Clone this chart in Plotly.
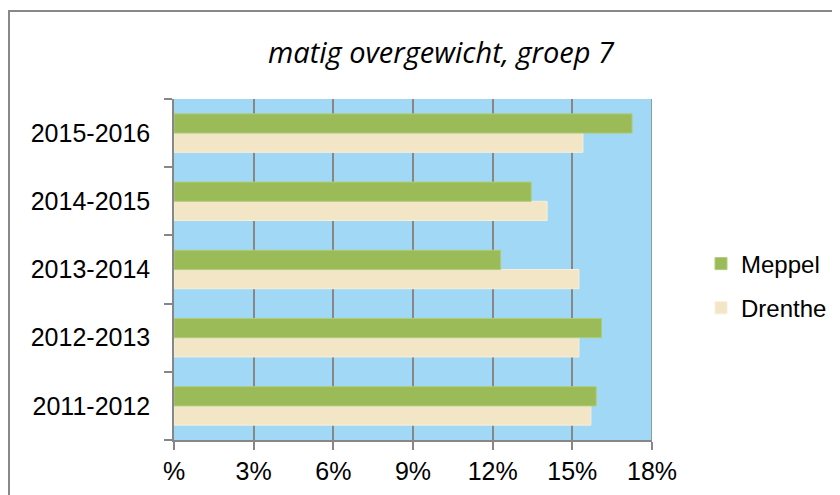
import plotly.graph_objects as go

categories = ["2011-2012", "2012-2013", "2013-2014", "2014-2015", "2015-2016"]
meppel = [15.9, 16.1, 12.3, 13.45, 17.25]
drenthe = [15.7, 15.25, 15.25, 14.05, 15.4]
tick_vals = [0, 3, 6, 9, 12, 15, 18]
tick_text = ["%", "3%", "6%", "9%", "12%", "15%", "18%"]
title_text = "matig overgewicht, groep 7"

OFF = 8  # page body margin (figure is drawn 8px from the page's top-left)
W, H = 840 - OFF, 495 - OFF
L, T = 174 - OFF, 99 - OFF
R = W - (652 - OFF)
B = H - (440 - OFF)
pw, ph = W - L - R, H - T - B

def px2x(px):
    return (px - OFF - L) / pw

def px2y(py):
    return (H - B - (py - OFF)) / ph

fig = go.Figure()
fig.add_trace(go.Bar(
    y=categories, x=drenthe, name="Drenthe", orientation="h",
    marker=dict(color="#F2E6C6", line=dict(color="#F7EFD9", width=1)),
    legendgroup="d", legendrank=2,
))
fig.add_trace(go.Bar(
    y=categories, x=meppel, name="Meppel", orientation="h",
    marker=dict(color="#9BBB59", line=dict(color="#B0CC7A", width=1)),
    legendgroup="m", legendrank=1,
))

grid = "#878787"
fig.update_layout(
    width=W, height=H,
    margin=dict(l=L, r=R, t=T, b=B, autoexpand=False),
    paper_bgcolor="white",
    plot_bgcolor="#A0D8F5",
    barmode="group",
    bargap=0.436,
    bargroupgap=0,
    font=dict(family="Liberation Sans, Arial, sans-serif", size=25, color="#000000"),
    xaxis=dict(
        range=[0, 18], tickvals=tick_vals, ticktext=tick_text,
        showgrid=True, gridcolor=grid, gridwidth=1.5,
        showline=True, linecolor=grid, linewidth=1.5, mirror=False,
        ticks="outside", ticklen=8, tickcolor=grid, tickwidth=1.5,
        zeroline=False, tickfont=dict(size=25),
    ),
    yaxis=dict(
        type="category", categoryorder="array", categoryarray=categories,
        showgrid=False, showline=True, linecolor=grid, linewidth=1.5,
        ticks="outside", ticklen=8, tickcolor=grid, tickwidth=1.5,
        tickson="boundaries", ticklabelstandoff=17, tickfont=dict(size=25),
    ),
    legend=dict(
        x=px2x(701), y=px2y(286), xanchor="left", yanchor="middle",
        traceorder="grouped", tracegroupgap=10,
        font=dict(size=24), bgcolor="rgba(0,0,0,0)",
        itemwidth=30,
    ),
    showlegend=True,
)

fig.add_annotation(
    text="<i>" + title_text + "</i>", xref="paper", yref="paper",
    x=px2x(441), y=px2y(52), xanchor="center", yanchor="middle",
    showarrow=False, font=dict(family="Open Sans, sans-serif", size=29, color="#000000"),
)

# outer chart border
fig.add_shape(type="rect", xref="paper", yref="paper",
              x0=px2x(9), x1=px2x(860), y0=px2y(520), y1=px2y(11),
              line=dict(color="#888888", width=2), fillcolor="rgba(0,0,0,0)", layer="below")
# right plot border (18% gridline)
fig.add_shape(type="line", xref="x", yref="paper", x0=18, x1=18, y0=0, y1=1,
              line=dict(color=grid, width=1.5))

fig.write_html("out.html")
